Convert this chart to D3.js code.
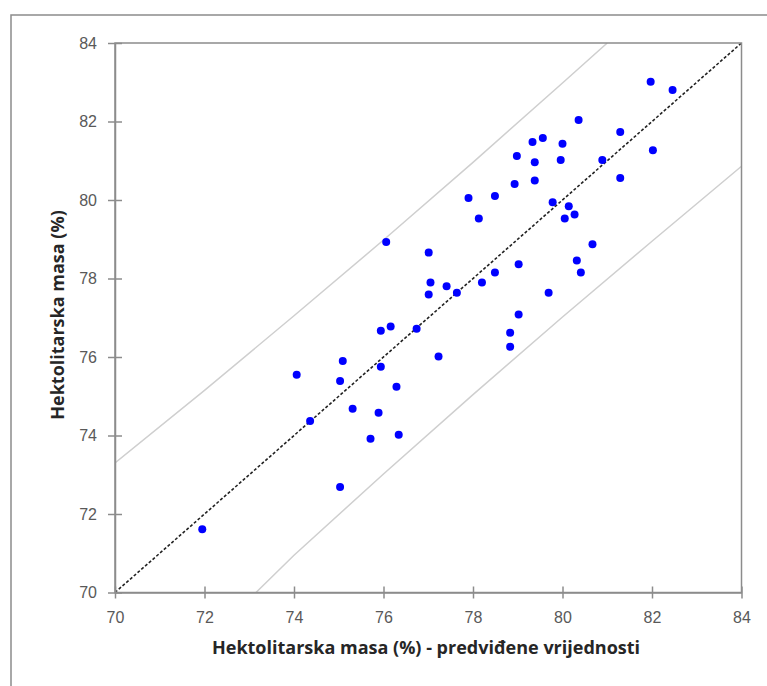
<!DOCTYPE html>
<html>
<head>
<meta charset="utf-8">
<script src="https://cdn.jsdelivr.net/npm/d3@7"></script>
<style>
  body { margin: 0; background: #fff; }
  svg { display: block; font-family: Lato, "Open Sans", sans-serif; }
  .tick text { fill: #595959; font-size: 16px; }
  .axis-title { fill: #262626; font-family: "Open Sans", sans-serif; font-weight: bold; font-size: 18px; }
</style>
</head>
<body>
<svg id="chart" width="767" height="686"></svg>
<script>
// predicted (x) vs measured (y) test weight
const predicted = [81.97, 82.46, 80.36, 81.29, 79.33, 79.56, 80.00, 78.98, 79.38, 79.96,
  80.89, 82.02, 81.29, 79.38, 78.93, 77.90, 78.49, 78.13, 79.78, 80.14,
  80.27, 80.05, 77.01, 80.67, 80.32, 79.02, 80.41, 78.49, 77.05, 77.41,
  78.20, 77.01, 77.64, 79.69, 79.02, 76.06, 75.94, 76.16, 76.74, 75.09,
  74.06, 75.03, 75.94, 76.29, 75.31, 75.89, 74.36, 75.71, 76.34, 75.03,
  71.95, 78.83, 78.83, 77.23];
const measured = [83.01, 82.80, 82.04, 81.73, 81.48, 81.58, 81.43, 81.12, 80.96, 81.02,
  81.02, 81.27, 80.56, 80.50, 80.41, 80.05, 80.10, 79.53, 79.94, 79.84,
  79.63, 79.53, 78.66, 78.87, 78.46, 78.36, 78.15, 78.15, 77.90, 77.80,
  77.90, 77.59, 77.64, 77.64, 77.08, 78.93, 76.67, 76.78, 76.72, 75.90,
  75.55, 75.39, 75.75, 75.24, 74.68, 74.58, 74.37, 73.92, 74.02, 72.69,
  71.61, 76.62, 76.26, 76.01];

// 1:1 line and prediction interval bounds
const idealX = [70, 84];
const idealY = [70, 84];
const upperX = [70, 72, 74, 76, 78, 80, 81];
const upperY = [73.30, 75.15, 77.05, 78.98, 80.96, 82.98, 84.0];
const lowerX = [73.15, 74, 76, 78, 80, 82, 84];
const lowerY = [70.0, 70.95, 73.02, 75.04, 77.02, 78.95, 80.86];

const xTicks = [70, 72, 74, 76, 78, 80, 82, 84];
const yTicks = [70, 72, 74, 76, 78, 80, 82, 84];

const xTitle = 'Hektolitarska masa (%) - predviđene vrijednosti';
const yTitle = 'Hektolitarska masa (%)';

const margin = { top: 43, left: 115, right: 25.5, bottom: 93.5 };
const W = 767, H = 686;
const width = W - margin.left - margin.right,
  height = H - margin.top - margin.bottom;

const svg = d3.select('#chart');

// outer frame (runs off the right/bottom edge)
svg.append('rect')
  .attr('x', 11).attr('y', 15)
  .attr('width', 780).attr('height', 700)
  .attr('fill', 'none').attr('stroke', '#8c8c8c').attr('stroke-width', 1.5);

const g = svg.append('g').attr('transform', `translate(${margin.left},${margin.top})`);

const x = d3.scaleLinear().domain([70, 84]).range([0, width]);
const y = d3.scaleLinear().domain([70, 84]).range([height, 0]);

g.append('clipPath').attr('id', 'plot-clip')
  .append('rect').attr('width', width).attr('height', height);

const line = d3.line().x(d => x(d[0])).y(d => y(d[1]));
const plot = g.append('g').attr('clip-path', 'url(#plot-clip)');

plot.append('path')
  .datum(d3.zip(upperX, upperY))
  .attr('d', line)
  .attr('fill', 'none').attr('stroke', '#cfcfcf').attr('stroke-width', 1.5);

plot.append('path')
  .datum(d3.zip(lowerX, lowerY))
  .attr('d', line)
  .attr('fill', 'none').attr('stroke', '#cfcfcf').attr('stroke-width', 1.5);

plot.append('path')
  .datum(d3.zip(idealX, idealY))
  .attr('d', line)
  .attr('fill', 'none').attr('stroke', '#222').attr('stroke-width', 1.6)
  .attr('stroke-dasharray', '3,2');

// plot box
g.append('rect')
  .attr('width', width).attr('height', height)
  .attr('fill', 'none').attr('stroke', '#8c8c8c').attr('stroke-width', 1.5);

const xAxis = g.append('g')
  .attr('transform', `translate(0,${height})`)
  .call(d3.axisBottom(x).tickValues(xTicks).tickSize(6).tickSizeOuter(0).tickPadding(13));
xAxis.selectAll('.tick line').attr('y1', -6);

const yAxis = g.append('g')
  .call(d3.axisLeft(y).tickValues(yTicks).tickSize(7).tickSizeOuter(0).tickPadding(11));
yAxis.selectAll('.tick line').attr('x1', 7);

[xAxis, yAxis].forEach(a => {
  a.select('.domain').attr('stroke', '#8c8c8c').attr('stroke-width', 1.5);
  a.selectAll('.tick line').attr('stroke', '#8c8c8c').attr('stroke-width', 1.5);
  a.selectAll('.tick text').attr('font-family', null).attr('font-size', null);
});

g.selectAll('circle.pt')
  .data(d3.zip(predicted, measured))
  .join('circle')
  .attr('class', 'pt')
  .attr('cx', d => x(d[0]))
  .attr('cy', d => y(d[1]))
  .attr('r', 4)
  .attr('fill', '#0000ff');

svg.append('text')
  .attr('class', 'axis-title')
  .attr('x', 426).attr('y', 654)
  .attr('text-anchor', 'middle')
  .text(xTitle);

svg.append('text')
  .attr('class', 'axis-title')
  .attr('transform', 'translate(64,315) rotate(-90)')
  .attr('text-anchor', 'middle')
  .text(yTitle);
</script>
</body>
</html>
